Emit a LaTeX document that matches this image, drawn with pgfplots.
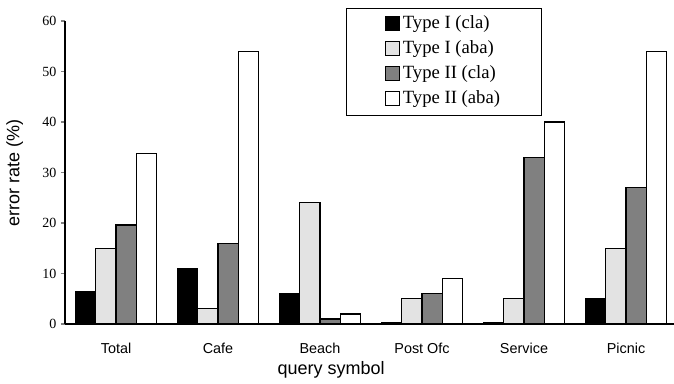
\documentclass[border=0pt]{standalone}
\usepackage{pgfplots}
\pgfplotsset{compat=1.18}
\usepackage{fontspec}
\setmainfont{Liberation Serif}
\setsansfont{Liberation Sans}
\definecolor{lgray}{HTML}{E3E3E3}
\definecolor{dgray}{HTML}{808080}
\begin{document}
\begin{tikzpicture}
\path[use as bounding box] (-48.75pt,-44.25pt) rectangle (456.75pt,243pt);
\begin{axis}[
  at={(0pt,0pt)}, anchor=south west,
  scale only axis, width=459pt, height=227.25pt,
  xmin=-0.5, xmax=5.5, ymin=0, ymax=60,
  axis x line=bottom, axis y line=left,
  axis line style={-, line width=1.1pt},
  ybar=0pt, bar width=15.3pt,
  xtick={0,1,2,3,4,5},
  xticklabels={Total,Cafe,Beach,Post Ofc,Service,Picnic},
  xtick style={draw=none},
  xticklabel style={font=\fontsize{10.8}{12}\sffamily, yshift=-8pt},
  ytick={0,10,20,30,40,50,60},
  tick align=outside, major tick length=3pt,
  ytick style={line width=0.9pt},
  /pgf/number format/assume math mode=true,
  yticklabel style={font=\fontsize{10.5}{12}\rmfamily},
  xlabel={query symbol},
  ylabel={error rate (\%)},
  label style={font=\fontsize{13.5}{15}\sffamily},
  xlabel style={at={(axis description cs:0.435,-0.152)}, anchor=center},
  ylabel style={at={(axis description cs:-0.082,0.5)}, anchor=center, rotate=0},
  legend style={at={(axis description cs:0.459,1.043)}, anchor=north west,
    draw=black, line width=0.9pt, inner xsep=29pt, inner ysep=3.75pt,
    font=\fontsize{14}{16}\rmfamily, row sep=2.25pt,
    nodes={inner sep=2pt, text height=9.5pt, text depth=3pt}},
  legend cell align=left,
  legend image code/.code={\draw[#1, line width=0.75pt] (0pt,-4.5pt) rectangle (10.5pt,6pt);},
]
\addplot[fill=black, draw=black, line width=0.9pt] coordinates {(0,6.5) (1,11) (2,6) (3,0.2) (4,0.2) (5,5)};
\addplot[fill=lgray, draw=black, line width=0.9pt] coordinates {(0,15) (1,3) (2,24) (3,5) (4,5) (5,15)};
\addplot[fill=dgray, draw=black, line width=0.9pt] coordinates {(0,19.6) (1,16) (2,1) (3,6) (4,33) (5,27)};
\addplot[fill=white, draw=black, line width=0.9pt] coordinates {(0,33.8) (1,54) (2,2) (3,9) (4,40) (5,54)};
\legend{Type I (cla),Type I (aba),Type II (cla),Type II (aba)}
\end{axis}
\end{tikzpicture}
\end{document}
